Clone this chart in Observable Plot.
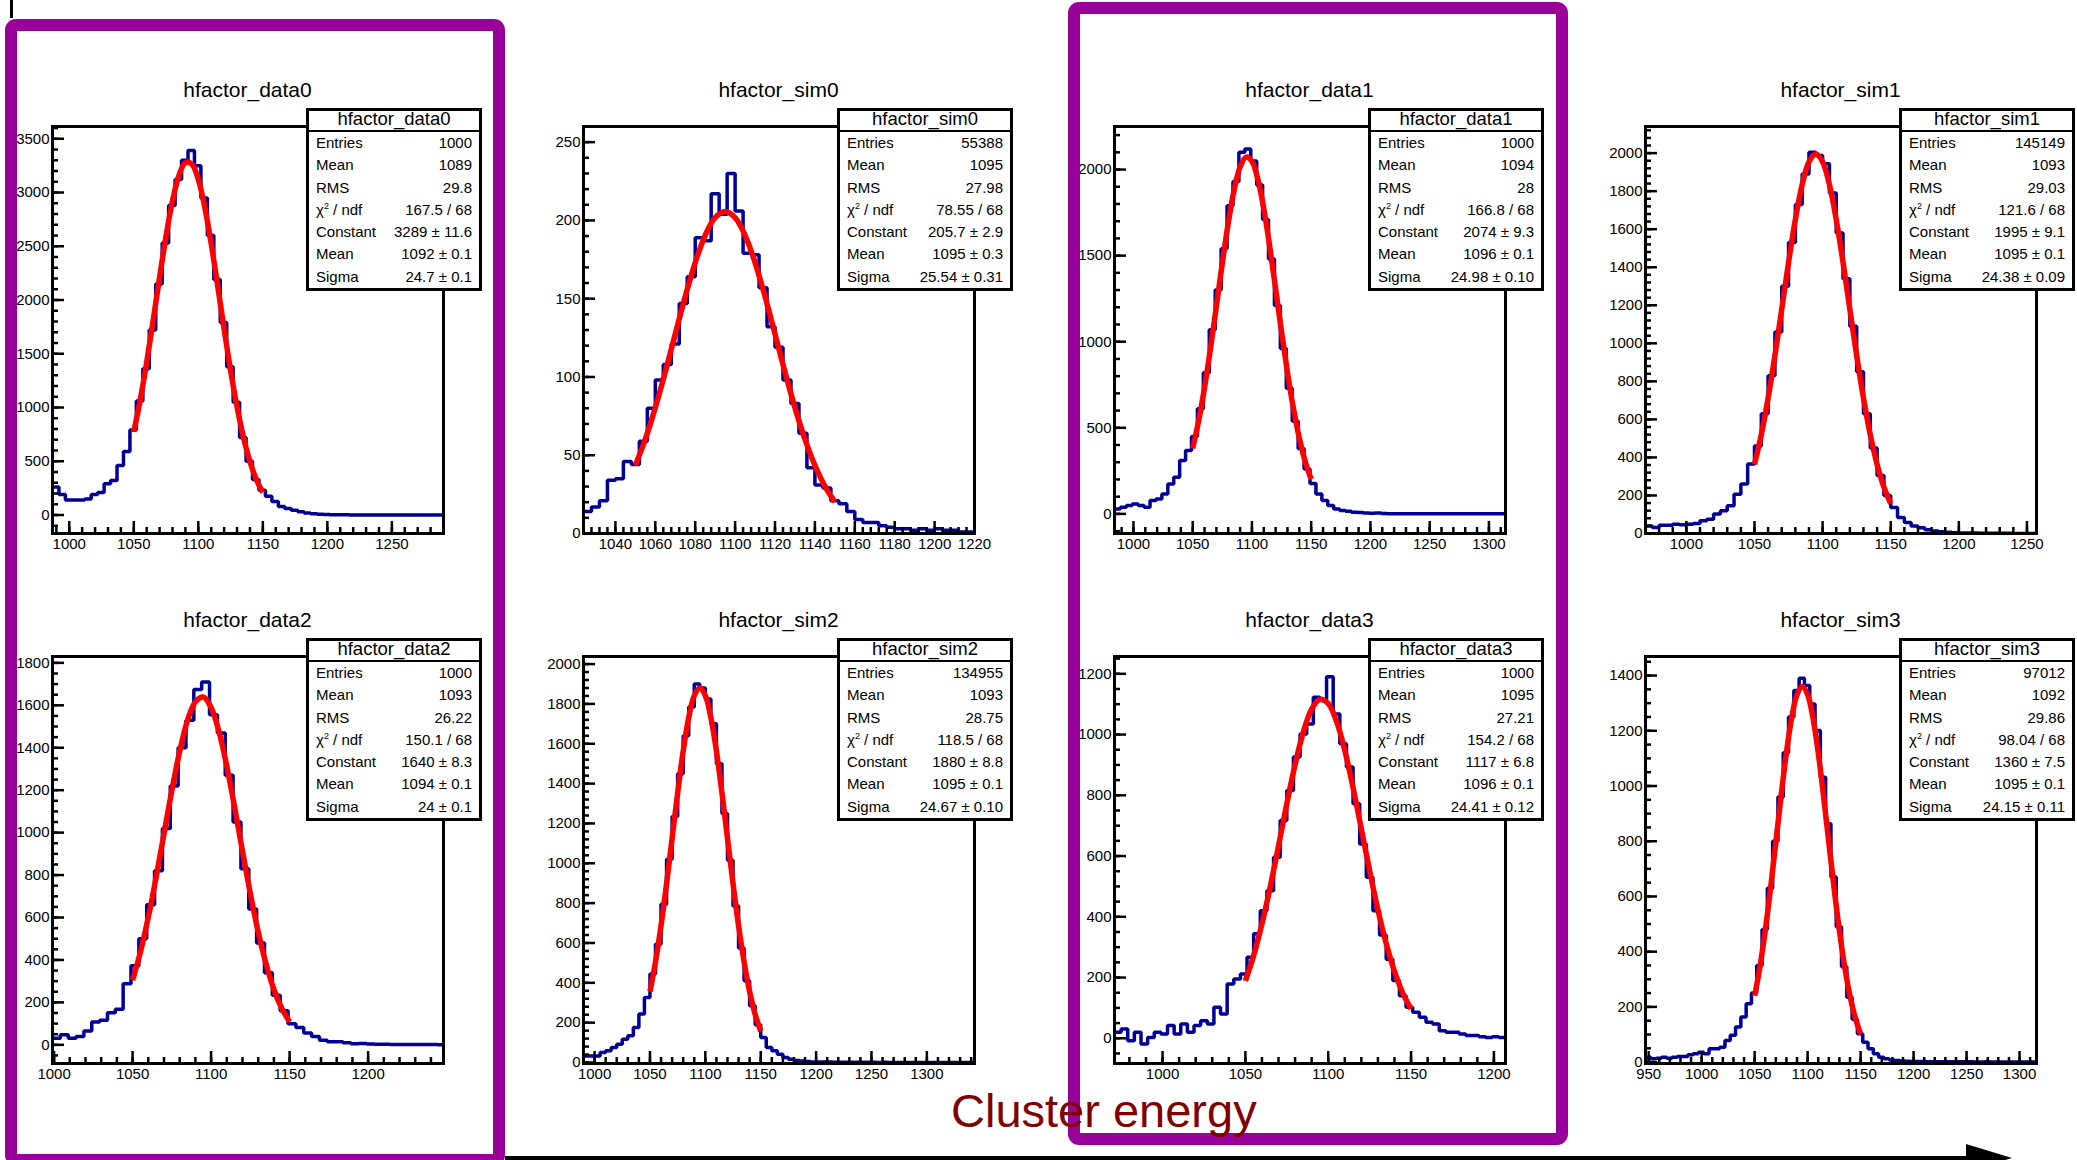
<!DOCTYPE html>
<html>
<head>
<meta charset="utf-8">
<script src="https://cdn.jsdelivr.net/npm/d3@7"></script>
<script src="https://cdn.jsdelivr.net/npm/@observablehq/plot@0.6"></script>
<style>
html,body{margin:0;padding:0;background:#fff;}
#root{position:relative;width:2077px;height:1160px;overflow:hidden;background:#fff;font-family:'Liberation Sans',Arial,Helvetica,sans-serif;color:#000;}
.panel{position:absolute;}
.title{position:absolute;width:391px;text-align:center;font-size:21px;line-height:24px;white-space:nowrap;}
.stats{position:absolute;width:176px;height:183px;box-sizing:border-box;border:3px solid #000;background:#fff;}
.stats .hd{height:19px;line-height:16px;border-bottom:2px solid #000;text-align:center;font-size:18.5px;white-space:nowrap;overflow:visible;}
.stats .row{display:flex;justify-content:space-between;height:22.3px;line-height:22.3px;font-size:15px;padding:0 7px;white-space:nowrap;}
.stats sup{font-size:9px;line-height:0;}
#overlay{position:absolute;left:0;top:0;}
</style>
</head>
<body>
<div id="root"></div>
<script>
// ---------- stats box texts ----------
const panelNames = ["hfactor_data0","hfactor_sim0","hfactor_data1","hfactor_sim1","hfactor_data2","hfactor_sim2","hfactor_data3","hfactor_sim3"];
const statEntries = ["1000","55388","1000","145149","1000","134955","1000","97012"];
const statMean = ["1089","1095","1094","1093","1093","1093","1095","1092"];
const statRMS = ["29.8","27.98","28","29.03","26.22","28.75","27.21","29.86"];
const statChi2 = ["167.5 / 68","78.55 / 68","166.8 / 68","121.6 / 68","150.1 / 68","118.5 / 68","154.2 / 68","98.04 / 68"];
const statConstant = ["3289 ± 11.6","205.7 ± 2.9","2074 ± 9.3","1995 ± 9.1","1640 ± 8.3","1880 ± 8.8","1117 ± 6.8","1360 ± 7.5"];
const statFitMean = ["1092 ± 0.1","1095 ± 0.3","1096 ± 0.1","1095 ± 0.1","1094 ± 0.1","1095 ± 0.1","1096 ± 0.1","1095 ± 0.1"];
const statSigma = ["24.7 ± 0.1","25.54 ± 0.31","24.98 ± 0.10","24.38 ± 0.09","24 ± 0.1","24.67 ± 0.10","24.41 ± 0.12","24.15 ± 0.11"];

// ---------- axes ----------
const xDomains = [[987,1290],[1024,1220],[984,1314],[970,1257],[999,1248],[990,1343],[971,1207],[947,1316]];
const yDomains = [[-172,3614],[0,260],[-114,2250],[0,2140],[-88,1830],[-5,2038],[-83,1257],[-5,1469]];
const xTickLabels = [
  [1000,1050,1100,1150,1200,1250],
  [1040,1060,1080,1100,1120,1140,1160,1180,1200,1220],
  [1000,1050,1100,1150,1200,1250,1300],
  [1000,1050,1100,1150,1200,1250],
  [1000,1050,1100,1150,1200],
  [1000,1050,1100,1150,1200,1250,1300],
  [1000,1050,1100,1150,1200],
  [950,1000,1050,1100,1150,1200,1250,1300]
];
const yTickLabels = [
  [0,500,1000,1500,2000,2500,3000,3500],
  [0,50,100,150,200,250],
  [0,500,1000,1500,2000],
  [0,200,400,600,800,1000,1200,1400,1600,1800,2000],
  [0,200,400,600,800,1000,1200,1400,1600,1800],
  [0,200,400,600,800,1000,1200,1400,1600,1800,2000],
  [0,200,400,600,800,1000,1200],
  [0,200,400,600,800,1000,1200,1400]
];
const xMinorSteps = [10,4,10,10,10,10,10,10];
const yMinorSteps = [100,10,100,40,50,40,50,50];

// ---------- histograms (bin low edge start, bin width, bin contents) ----------
const histStart = [987,1024,984,970,999,990,971,947];
const histWidth = [5,4,5,5,5,5,4,5];
const countsData0 = [260,190,140,140,140,150,190,210,290,320,460,590,790,1060,1360,1720,2150,2530,2880,3120,3300,3390,3250,2950,2600,2190,1790,1380,1050,720,500,330,230,175,125,80,60,45,30,18,12,8,5,3,2,2,1,1,1,0,1,0,0,0,0,0,0,0,0,0,0];
const countsSim0 = [14,17,21,34,35,46,44,59,80,98,108,121,147,164,189,187,217,204,230,206,179,178,157,132,119,98,83,64,42,31,29,21,19,14,9,7,7,5,4,3,3,2,3,2,3,2,2,1,1];
const countsData1 = [29,39,48,58,48,39,77,87,116,174,213,310,368,450,610,820,1070,1300,1540,1790,1930,2100,2120,2050,1910,1710,1480,1210,960,730,540,380,260,176,116,77,48,29,19,15,10,8,5,4,5,2,1,1,1,0,1,0,0,0,0,0,0,0,0,0,0,0,0,0,0,0];
const countsSim1 = [40,32,44,44,49,46,49,53,67,75,102,119,146,207,260,365,460,630,830,1060,1300,1530,1730,1890,2005,1988,1944,1790,1580,1340,1090,850,630,450,305,200,137,84,58,40,30,20,13,9,6,4,3,2,2,1,1,1,1,1,0,0,0,0];
const countsData2 = [31,48,31,39,65,108,116,151,168,288,373,500,660,820,1020,1220,1400,1530,1675,1710,1555,1470,1270,1050,830,640,480,340,234,160,99,82,56,39,22,14,14,10,5,6,4,3,3,2,2,1,1,1,1,0];
const countsSim2 = [33,33,33,50,59,75,92,117,134,176,243,326,444,594,795,1020,1235,1450,1640,1785,1900,1880,1825,1700,1500,1250,1015,785,575,410,285,190,125,75,59,42,25,16,10,7,5,3,2,2,2,1,1,1,1,1,1,1,1,0,1,0,0,0,0,0,0,0,0,0,0,0,0,0,0,0,0];
const countsData3 = [20,31,-8,20,-19,3,20,14,42,14,47,20,42,58,47,102,80,179,195,212,267,344,420,486,596,717,816,926,1002,1035,1123,1112,1190,1068,970,893,772,640,530,420,340,260,190,140,102,86,69,53,47,25,20,20,14,9,9,5,3,5,3];
const countsSim3 = [18,12,14,18,14,18,20,20,27,30,36,30,48,48,54,78,97,127,163,211,250,350,480,630,800,960,1120,1250,1346,1390,1364,1297,1201,1032,863,670,490,345,235,155,103,72,48,30,18,12,8,6,4,3,2,2,2,1,1,1,1,1,1,1,1,1,0,0,1,0,0,0,0,0,0,0,0,0];
const histCounts = [countsData0,countsSim0,countsData1,countsSim1,countsData2,countsSim2,countsData3,countsSim3];

// ---------- gaussian fit curves, read along x = 1050..1150 ----------
const fitX = [1050,1055,1060,1065,1070,1075,1080,1085,1090,1095,1100,1105,1110,1115,1120,1125,1130,1135,1140,1145,1150];
const fitData0 = [775,1071,1421,1810,2212,2595,2923,3159,3278,3265,3121,2864,2522,2132,1730,1347,1007,723,498,329,209];
const fitSim0 = [43.6,60.3,80.4,103.2,127.4,151.4,173.1,190.5,201.8,205.7,201.8,190.5,173.1,151.4,127.4,103.2,80.4,60.3,43.6,30.3,20.2];
const fitData1 = [381,539,734,960,1207,1457,1689,1882,2015,2072,2048,1944,1773,1553,1307,1057,821,613,440,303,201];
const fitSim1 = [363,519,712,936,1179,1425,1651,1834,1954,1995,1954,1834,1651,1425,1179,936,712,519,363,244,157];
const fitData2 = [305,438,601,790,995,1199,1383,1529,1617,1639,1590,1476,1313,1118,912,712,532,381,261,172,108];
const fitSim2 = [356,505,687,898,1125,1353,1563,1732,1842,1880,1842,1732,1563,1353,1125,898,687,505,356,241,157];
const fitData3 = [189,273,377,499,633,772,901,1009,1084,1116,1102,1044,948,825,689,552,423,312,220,149,97];
const fitSim3 = [240,345,476,629,796,965,1121,1248,1331,1360,1331,1248,1121,965,796,629,476,345,240,160,102];
const fitCurves = [fitData0,fitSim0,fitData1,fitSim1,fitData2,fitSim2,fitData3,fitSim3];

const axisLabel = "Cluster energy";

// ---------- layout ----------
const root = document.getElementById("root");
const colLeft = [52, 583, 1114, 1645];
const rowTop = [126, 656];
const W = 391, H = 407, mL = 60, mR = 8, mT = 6, mB = 28;
const font = "'Liberation Sans', Arial, Helvetica, sans-serif";

function ticksIn(domain, step) {
  const out = [];
  for (let v = Math.ceil(domain[0] / step) * step; v <= domain[1]; v += step) out.push(v);
  return out;
}

panelNames.forEach((name, i) => {
  const col = i % 4, row = Math.floor(i / 4);
  const fl = colLeft[col], ft = rowTop[row];
  const counts = histCounts[i];
  const hist = counts.map((v, k) => ({x: histStart[i] + k * histWidth[i], y: v}));
  hist.push({x: histStart[i] + counts.length * histWidth[i], y: counts[counts.length - 1]});
  const fit = fitX.map((x, k) => ({x, y: fitCurves[i][k]}));
  const xMinor = ticksIn(xDomains[i], xMinorSteps[i]);
  const yMinor = ticksIn(yDomains[i], yMinorSteps[i]);

  const chart = Plot.plot({
    width: W + mL + mR, height: H + mT + mB,
    marginLeft: mL, marginRight: mR, marginTop: mT, marginBottom: mB,
    x: {domain: xDomains[i], label: null},
    y: {domain: yDomains[i], label: null},
    style: {background: "transparent", fontFamily: font, fontSize: "15px", color: "#000", overflow: "visible"},
    marks: [
      Plot.line(hist, {x: "x", y: "y", curve: "step-after", stroke: "#000099", strokeWidth: 3.5, clip: true, strokeLinejoin: "miter", strokeLinecap: "butt"}),
      Plot.line(fit, {x: "x", y: "y", curve: "catmull-rom", stroke: "#ff0000", strokeWidth: 5.5, clip: true, strokeLinecap: "butt"}),
      Plot.ruleX(xMinor, {insetTop: H - 6, stroke: "#000", strokeWidth: 2.5}),
      Plot.ruleX(xTickLabels[i], {insetTop: H - 12, stroke: "#000", strokeWidth: 2.5}),
      Plot.ruleY(yMinor, {insetRight: W - 6, stroke: "#000", strokeWidth: 2.5}),
      Plot.ruleY(yTickLabels[i], {insetRight: W - 12, stroke: "#000", strokeWidth: 2.5}),
      Plot.frame({stroke: "#000", strokeWidth: 3}),
      Plot.axisX({ticks: xTickLabels[i], tickSize: 0, tickPadding: 5, tickFormat: d => String(d), label: null, fontSize: 15}),
      Plot.axisY({ticks: yTickLabels[i], tickSize: 0, tickPadding: 3, tickFormat: d => String(d), label: null, fontSize: 15})
    ]
  });
  const wrap = document.createElement("div");
  wrap.className = "panel";
  wrap.style.left = (fl - mL) + "px";
  wrap.style.top = (ft - mT) + "px";
  wrap.appendChild(chart);
  root.appendChild(wrap);

  const t = document.createElement("div");
  t.className = "title";
  t.style.left = fl + "px";
  t.style.top = (ft - 48) + "px";
  t.textContent = name;
  root.appendChild(t);

  const s = document.createElement("div");
  s.className = "stats";
  s.style.left = (fl + 254) + "px";
  s.style.top = (ft - 18) + "px";
  const rows = [
    ["Entries", statEntries[i]], ["Mean", statMean[i]], ["RMS", statRMS[i]],
    ["χ<sup>2</sup> / ndf", statChi2[i]], ["Constant", statConstant[i]],
    ["Mean", statFitMean[i]], ["Sigma", statSigma[i]]
  ];
  s.innerHTML = `<div class="hd">${name}</div>` +
    rows.map(r => `<div class="row"><span>${r[0]}</span><span>${r[1]}</span></div>`).join("");
  root.appendChild(s);
});

// ---------- decorations: purple boxes, arrow, label ----------
const ns = "http://www.w3.org/2000/svg";
const ov = document.createElementNS(ns, "svg");
ov.setAttribute("id", "overlay");
ov.setAttribute("width", 2077);
ov.setAttribute("height", 1160);
ov.innerHTML = `
  <line x1="11.5" y1="0" x2="11.5" y2="18" stroke="#000" stroke-width="3"/>
  <rect x="11" y="25" width="488" height="1135" rx="5" fill="none" stroke="#990099" stroke-width="12"/>
  <rect x="1074" y="8" width="488" height="1131" rx="5" fill="none" stroke="#990099" stroke-width="12"/>
  <line x1="505" y1="1158" x2="1975" y2="1158" stroke="#000" stroke-width="4"/>
  <polygon points="1966,1144 2012,1158 1966,1172" fill="#000"/>
  <text x="951" y="1127" font-family="${font}" font-size="47" fill="#800000">${axisLabel}</text>
`;
root.appendChild(ov);
</script>
</body>
</html>
